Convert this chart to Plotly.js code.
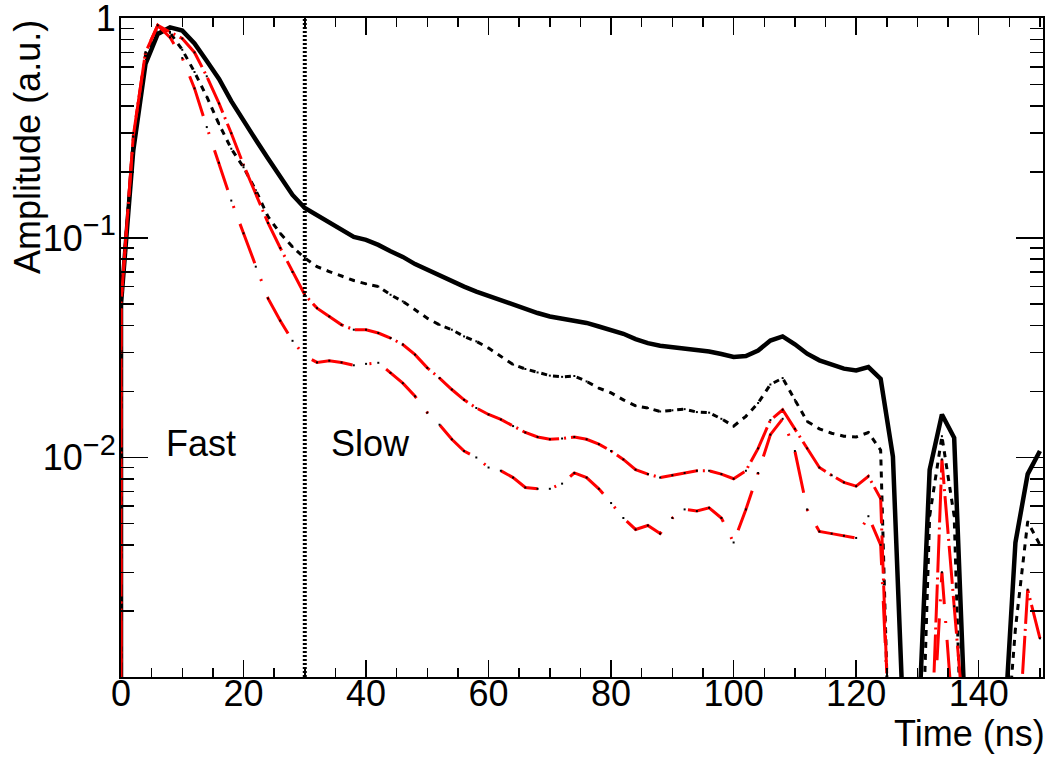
<!DOCTYPE html>
<html><head><meta charset="utf-8">
<script src="https://cdn.plot.ly/plotly-3.0.1.min.js"></script>
<style>html,body{margin:0;padding:0;background:#fff;} #chart{width:1048px;height:762px;}</style>
</head><body><div id="chart"></div>
<script>
// Time in ns (first sample repeated: signal starts from baseline at t=0)
const time = [0,
  0,2,4,6,8,10,12,14,16,18,
  20,22,24,26,28,30,32,34,36,38,
  40,42,44,46,48,50,52,54,56,58,
  60,62,64,66,68,70,72,74,76,78,
  80,82,84,86,88,90,92,94,96,98,
  100,102,104,106,108,110,112,114,116,118,
  120,122,124,126,128,130,132,134,136,138,
  140,142,144,146,148,150];

// black solid
const ampSolid = [0.0001,
  0.05,0.25,0.62,0.85,0.91,0.88,0.77,0.64,0.53,0.42,
  0.34,0.28,0.23,0.19,0.157,0.137,0.127,0.117,0.108,0.101,
  0.098,0.093,0.087,0.082,0.076,0.0716,0.067,0.063,0.060,0.057,
  0.0545,0.0519,0.0496,0.0474,0.0455,0.0439,0.0430,0.0420,0.0410,0.0395,
  0.0379,0.0366,0.0346,0.0332,0.0323,0.0318,0.0315,0.0310,0.0304,0.0296,
  0.0287,0.0290,0.0307,0.0341,0.0356,0.0328,0.0297,0.0277,0.0265,0.0254,
  0.0249,0.0258,0.0228,0.0101,0.00038,0.00045,0.0088,0.0157,0.0123,0.00044,
  0.0003,0.0003,0.00047,0.0041,0.0084,0.0107];

// black short-dashed
const ampDash = [0.0001,
  0.05,0.28,0.68,0.91,0.86,0.72,0.57,0.44,0.33,0.255,
  0.21,0.165,0.125,0.105,0.091,0.081,0.074,0.0703,0.0672,0.064,
  0.0618,0.0601,0.0551,0.0514,0.0471,0.0431,0.0402,0.0382,0.0356,0.0338,
  0.0315,0.0289,0.0265,0.0253,0.0244,0.0236,0.0233,0.0235,0.0222,0.0207,
  0.0197,0.0183,0.0172,0.0168,0.0162,0.0164,0.0166,0.0161,0.0160,0.0150,
  0.0139,0.0154,0.0177,0.0215,0.0230,0.0183,0.0146,0.0135,0.0129,0.0125,
  0.0124,0.0130,0.0108,0.0001,0.0001,0.00008,0.0054,0.0125,0.0054,0.00008,
  0.0001,0.0001,0.00032,0.00166,0.0051,0.0040];

// red long dash-dot (upper red)
const ampRedA = [0.0001,
  0.05,0.29,0.70,0.93,0.87,0.81,0.70,0.545,0.41,0.30,
  0.215,0.16,0.117,0.09,0.07,0.0551,0.0479,0.0439,0.0402,0.0382,
  0.0382,0.0369,0.0350,0.0327,0.0294,0.0256,0.0230,0.0204,0.0183,0.0168,
  0.0157,0.0149,0.0139,0.0130,0.0124,0.0121,0.0122,0.0124,0.0121,0.0115,
  0.0107,0.0098,0.0088,0.0084,0.0081,0.0083,0.0085,0.0087,0.0087,0.0084,
  0.0080,0.0087,0.0110,0.0148,0.0165,0.0135,0.0110,0.0090,0.0083,0.0077,
  0.0074,0.0082,0.0065,0.00016,0.0001,0.0001,0.0003,0.0098,0.0021,0.00048,
  0.0001,0.0001,0.0001,0.0003,0.0025,0.0015];

// red dash-dot (lower red)
const ampRedB = [0.0001,
  0.05,0.29,0.70,0.93,0.82,0.66,0.48,0.32,0.22,0.148,
  0.105,0.074,0.053,0.042,0.034,0.029,0.0271,0.0276,0.0271,0.0263,
  0.0267,0.0270,0.0243,0.0218,0.0190,0.0160,0.0141,0.0121,0.0107,0.0100,
  0.0090,0.0087,0.0081,0.0073,0.0072,0.0072,0.0076,0.0085,0.0081,0.0072,
  0.0062,0.0053,0.0047,0.0049,0.0045,0.0053,0.0058,0.0057,0.0059,0.0053,
  0.0041,0.0058,0.0085,0.0127,0.0150,0.0107,0.0058,0.0046,0.0045,0.0044,
  0.0043,0.0054,0.0040,0.00025,0.0001,0.0001,0.0003,0.003,0.0006,0.0001,
  0.0001,0.0001,0.0001,0.0001,0.0001,0.0001];

const boundaryTime = 30;
const regionLabels = ['Fast', 'Slow'];
const yTickVals = [0.01, 0.1, 1];
const supStyle = 'font-size:29px';
const yTickText = ['10<sup><span style="' + supStyle + '">\u22122</span></sup>',
                   '10<sup><span style="' + supStyle + '">\u22121</span></sup>', '1'];
const yMinorVals = [0.002,0.003,0.004,0.005,0.006,0.007,0.008,0.009,
                    0.02,0.03,0.04,0.05,0.06,0.07,0.08,0.09,
                    0.2,0.3,0.4,0.5,0.6,0.7,0.8,0.9];

const FONT = 'Liberation Sans, Arial, Helvetica, sans-serif';
const dotMarker = {size: 2, color: '#000', symbol: 'square'};

const traces = [
  {x: time, y: ampSolid, mode: 'lines', line: {color: '#000', width: 4.5}},
  {x: time, y: ampDash, mode: 'lines+markers', marker: dotMarker,
   line: {color: '#000', width: 3, dash: '6px,6px'}},
  {x: time, y: ampRedA, mode: 'lines+markers', marker: dotMarker,
   line: {color: '#ff0000', width: 3, dash: '38px,5px,2px,5px'}},
  {x: time, y: ampRedB, mode: 'lines+markers', marker: dotMarker,
   line: {color: '#ff0000', width: 3, dash: '42px,17px,2px,17px'}}
];

const layout = {
  width: 1048, height: 762,
  margin: {l: 121, r: 5, t: 18, b: 85},
  paper_bgcolor: '#fff', plot_bgcolor: '#fff',
  showlegend: false,
  font: {family: FONT, size: 36, color: '#000'},
  xaxis: {
    range: [0, 150.5], showgrid: false, zeroline: false,
    showline: true, linecolor: '#000', linewidth: 2, mirror: 'allticks',
    ticks: 'inside', ticklen: 17, tickwidth: 1.5, tickcolor: '#000',
    tick0: 0, dtick: 20, tickangle: 0,
    tickfont: {family: FONT, size: 36, color: '#000'},
    ticklabelstandoff: -16, ticklabeloverflow: 'allow',
    minor: {ticks: 'inside', ticklen: 9, tickwidth: 1.5, tickcolor: '#000', dtick: 5, showgrid: false}
  },
  yaxis: {
    type: 'log', range: [-3, 0.002], showgrid: false, zeroline: false,
    showline: true, linecolor: '#000', linewidth: 2, mirror: 'allticks',
    ticks: 'inside', ticklen: 27, tickwidth: 1.5, tickcolor: '#000',
    tickmode: 'array', tickvals: yTickVals, ticktext: yTickText,
    tickfont: {family: FONT, size: 36, color: '#000'},
    ticklabelstandoff: -4, ticklabeloverflow: 'allow',
    minor: {ticks: 'inside', ticklen: 13, tickwidth: 1.5, tickcolor: '#000', tickvals: yMinorVals, showgrid: false}
  },
  shapes: [{
    type: 'line', xref: 'x', yref: 'paper', x0: boundaryTime, x1: boundaryTime, y0: 0, y1: 1,
    line: {color: '#000', width: 4, dash: '2px,2px'}
  }],
  annotations: [
    {text: regionLabels[0], xref: 'paper', yref: 'paper', x: 0.047, y: 0.355,
     xanchor: 'left', yanchor: 'middle', showarrow: false, font: {family: FONT, size: 36, color: '#000'}},
    {text: regionLabels[1], xref: 'paper', yref: 'paper', x: 0.226, y: 0.355,
     xanchor: 'left', yanchor: 'middle', showarrow: false, font: {family: FONT, size: 36, color: '#000'}},
    {text: 'Time (ns)', xref: 'paper', yref: 'paper', x: 1.004, y: -0.085,
     xanchor: 'right', yanchor: 'middle', showarrow: false, font: {family: FONT, size: 36, color: '#000'}},
    {text: 'Amplitude (a.u.)', xref: 'paper', yref: 'paper', x: -0.102, y: 1.0,
     xanchor: 'center', yanchor: 'top', textangle: -90, showarrow: false,
     font: {family: FONT, size: 36, color: '#000'}}
  ]
};

Plotly.newPlot('chart', traces, layout, {staticPlot: true, displayModeBar: false});
</script>
</body></html>
